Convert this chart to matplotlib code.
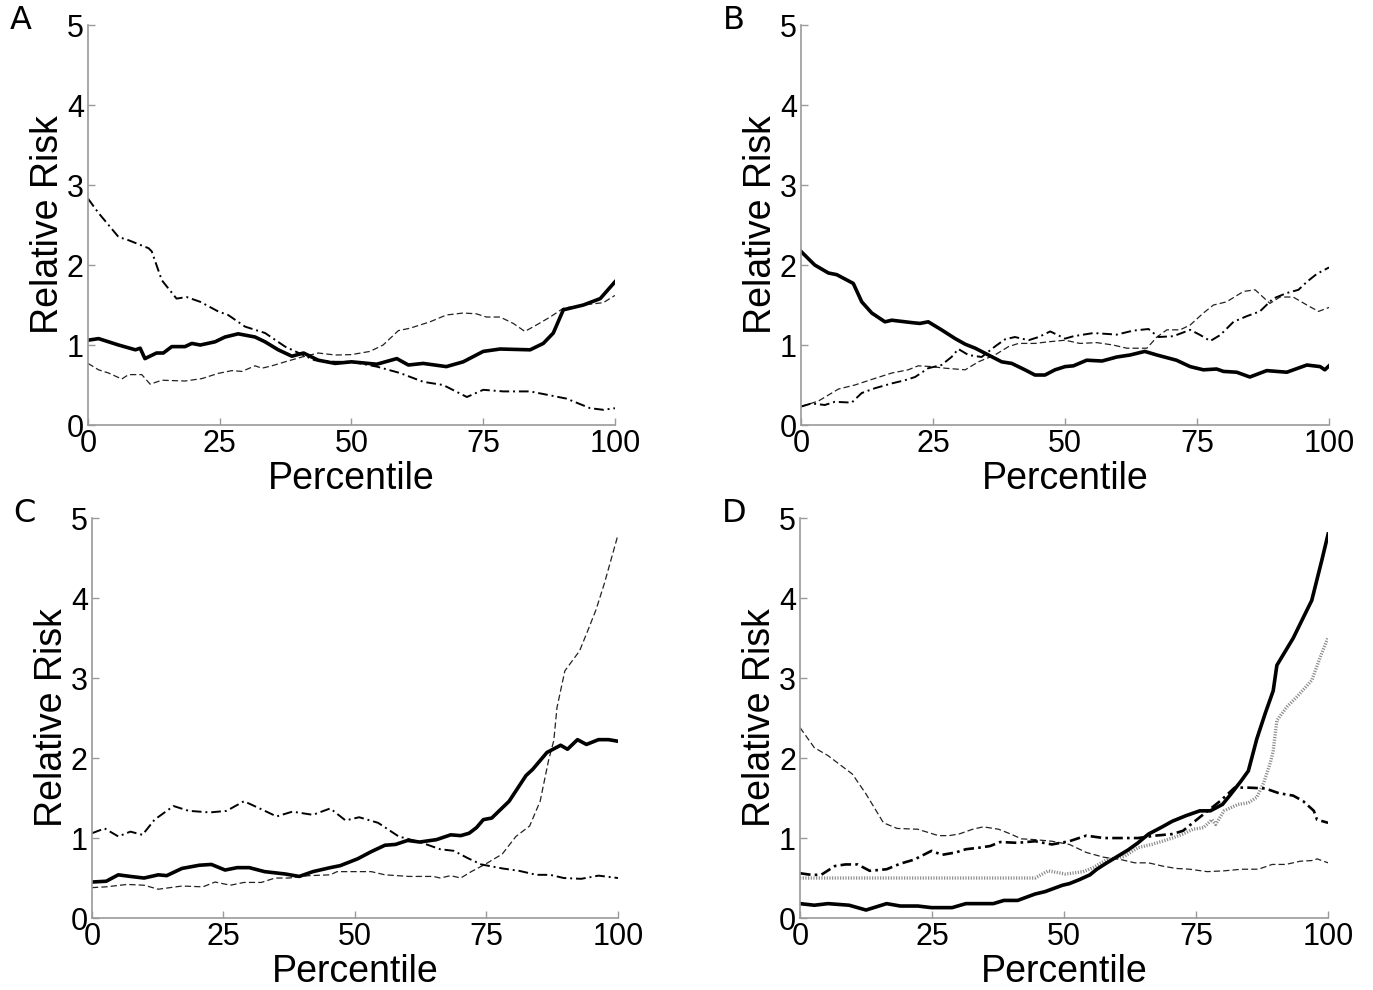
import matplotlib
matplotlib.use("Agg")
import matplotlib.pyplot as plt

plt.rcParams['font.family'] = ['Liberation Sans', 'DejaVu Sans']

# ---- panel A ----
A_solid_x = [0, 2, 5.8, 9, 9.9, 10.8, 13, 14.3, 15.9, 18.4, 19.7, 21.3, 24.1, 26, 28.5, 31.7, 33.6, 36.1, 38.7, 40.9,
             43.7, 46.9, 50, 54.8, 58.6, 60.8, 63.6, 68, 71.2, 75, 78.2, 83.9, 86.4, 88.3, 90.2, 94, 97.2, 100]
A_solid_y = [1.06, 1.08, 1.0, 0.94, 0.96, 0.83, 0.9, 0.9, 0.98, 0.98, 1.02, 1.0, 1.04, 1.1, 1.14, 1.1, 1.04, 0.94, 0.86, 0.9,
             0.81, 0.77, 0.79, 0.76, 0.83, 0.75, 0.77, 0.73, 0.79, 0.92, 0.95, 0.94, 1.02, 1.15, 1.44, 1.5, 1.58, 1.79]
A_dash_x = [0, 2, 3.9, 6.4, 7.7, 10.2, 11.8, 14, 18.4, 21.6, 24.7, 27.3, 29.2, 31.7, 33, 34.9, 37.4, 40.6, 43.7, 46.9, 50,
            53.5, 56, 58.9, 61.1, 64.9, 68, 71.2, 73.7, 75.6, 78.2, 80.7, 82.9, 85.1, 87.7, 90.2, 94, 97.8, 100]
A_dash_y = [0.77, 0.69, 0.65, 0.575, 0.63, 0.63, 0.51, 0.56, 0.55, 0.58, 0.645, 0.68, 0.67, 0.74, 0.71, 0.74, 0.79, 0.85, 0.9,
            0.875, 0.88, 0.92, 1.0, 1.18, 1.21, 1.29, 1.375, 1.4, 1.39, 1.35, 1.35, 1.27, 1.17, 1.25, 1.35, 1.46, 1.5, 1.53, 1.62]
A_dd_x = [0, 2, 5.8, 7.7, 11.5, 12.1, 14, 16.8, 18.7, 21.3, 24.7, 26.6, 29.8, 33.6, 37.4, 40, 43, 46.9, 50, 54.8, 59.2,
          63.6, 67.4, 71.9, 75, 78.8, 83.9, 90.8, 95.3, 97.8, 100]
A_dd_y = [2.83, 2.65, 2.35, 2.31, 2.21, 2.17, 1.81, 1.58, 1.6, 1.54, 1.42, 1.375, 1.23, 1.15, 0.98, 0.9, 0.81, 0.79, 0.79,
          0.73, 0.65, 0.54, 0.5, 0.35, 0.44, 0.42, 0.42, 0.33, 0.21, 0.19, 0.21]

# ---- panel B ----
B_solid_x = [0, 2.6, 5.2, 6.75, 9.9, 11.5, 13.4, 15.9, 17.2, 21, 22.5, 24.1, 26.6, 29.2, 31.1, 33, 35.5, 38, 39.9, 42.4,
             44.3, 46.2, 48.1, 50, 51.6, 54.1, 57, 59.8, 62.3, 65.1, 67.4, 71.1, 73.7, 76.2, 78.7, 80, 82.5, 85, 88.2,
             92, 95.8, 98.3, 99.2, 100]
B_solid_y = [2.17, 2.0, 1.9, 1.88, 1.77, 1.54, 1.4, 1.29, 1.31, 1.28, 1.27, 1.29, 1.19, 1.08, 1.01, 0.96, 0.875, 0.79, 0.77,
             0.69, 0.625, 0.625, 0.69, 0.73, 0.74, 0.81, 0.8, 0.85, 0.875, 0.92, 0.875, 0.81, 0.73, 0.69, 0.7, 0.67, 0.66,
             0.6, 0.68, 0.66, 0.75, 0.73, 0.69, 0.74]
B_dash_x = [0, 3.3, 7.1, 10.2, 13.4, 17.2, 20.3, 22.2, 24.7, 27.3, 31.1, 33.6, 36.7, 39.3, 41.2, 44.3, 46.8, 50, 52.8, 56,
            59.1, 61.7, 65.5, 67.4, 69.3, 71.8, 73.7, 76.2, 78.1, 80.6, 83.8, 86, 88.8, 90.7, 93.2, 95.8, 98, 100]
B_dash_y = [0.23, 0.3, 0.45, 0.5, 0.57, 0.65, 0.69, 0.74, 0.73, 0.71, 0.69, 0.79, 0.875, 0.98, 1.02, 1.02, 1.04, 1.06, 1.02,
            1.03, 1.0, 0.96, 0.96, 1.1, 1.19, 1.19, 1.25, 1.4, 1.5, 1.54, 1.67, 1.69, 1.52, 1.6, 1.6, 1.5, 1.42, 1.47]
B_dd_x = [0, 2, 4.5, 6.4, 9.6, 11.5, 14, 17.2, 19.7, 21.6, 24.1, 26.6, 28.5, 29.8, 31.7, 34.2, 36.7, 38.6, 40.5, 43.1, 45,
          47.2, 50, 51.6, 55.4, 59.8, 62.9, 65.8, 67.7, 70.5, 73.7, 75.6, 77.5, 79.4, 81.9, 84.4, 86.9, 89.4, 92, 94.2,
          95.8, 97.7, 100]
B_dd_y = [0.23, 0.27, 0.25, 0.29, 0.28, 0.4, 0.46, 0.52, 0.56, 0.6, 0.71, 0.75, 0.85, 0.95, 0.875, 0.85, 0.98, 1.07, 1.1,
          1.06, 1.1, 1.17, 1.08, 1.11, 1.15, 1.13, 1.18, 1.2, 1.1, 1.11, 1.19, 1.125, 1.05, 1.125, 1.29, 1.36, 1.42, 1.58,
          1.65, 1.69, 1.79, 1.89, 1.97]

# ---- panel C ----
C_solid_x = [0, 2.7, 5, 7.3, 9.9, 12.6, 14.2, 17.1, 20.4, 22.7, 25.3, 27.6, 29.9, 32.8, 36.8, 39.4, 42, 45.3, 47.2, 50.5,
             53.1, 55.7, 57.7, 60, 62.3, 65.5, 68.2, 70.1, 71.7, 73.1, 74.4, 76, 79.3, 82.5, 83.8, 86.5, 89.1, 90.4, 92.3,
             94, 96.3, 98.2, 100]
C_solid_y = [0.45, 0.46, 0.54, 0.52, 0.5, 0.54, 0.53, 0.62, 0.66, 0.67, 0.6, 0.63, 0.63, 0.58, 0.55, 0.52, 0.58, 0.63, 0.655,
             0.74, 0.83, 0.91, 0.92, 0.97, 0.95, 0.98, 1.04, 1.03, 1.06, 1.13, 1.23, 1.25, 1.46, 1.78, 1.86, 2.07, 2.16,
             2.11, 2.23, 2.17, 2.23, 2.23, 2.21]
C_dash_x = [0, 2.7, 6.7, 9.9, 12.6, 17.1, 21.1, 23.4, 26.3, 28.9, 32.2, 34.8, 37.4, 41.3, 45.3, 46.6, 50.5, 53.1, 55.7, 60.3,
            64.9, 66.2, 68.2, 70.1, 72.1, 74.7, 78, 80.6, 83.2, 85.2, 86.8, 87.8, 88.4, 89.9, 92.7, 94.3, 95.8, 97.4, 100]
C_dash_y = [0.38, 0.39, 0.42, 0.41, 0.36, 0.4, 0.39, 0.45, 0.41, 0.445, 0.445, 0.5, 0.5, 0.53, 0.54, 0.58, 0.58, 0.58, 0.54,
            0.52, 0.52, 0.5, 0.53, 0.5, 0.58, 0.67, 0.8, 1.02, 1.15, 1.46, 1.97, 2.22, 2.63, 3.09, 3.34, 3.6, 3.85, 4.18, 4.79]
C_dd_x = [0, 2.4, 5, 7.3, 9.6, 11.9, 15.5, 18.4, 22.4, 25.6, 28.9, 32.2, 35.1, 38.1, 42, 45.3, 48.2, 50.8, 54.4, 58.3, 62.3,
          66.2, 68.8, 71.4, 74, 78, 81.2, 84.5, 87.1, 89.7, 93, 96.3, 100]
C_dd_y = [1.06, 1.12, 1.02, 1.08, 1.04, 1.23, 1.4, 1.34, 1.32, 1.34, 1.46, 1.36, 1.27, 1.33, 1.29, 1.37, 1.22, 1.26, 1.19,
          1.02, 0.95, 0.86, 0.84, 0.75, 0.67, 0.62, 0.59, 0.54, 0.54, 0.5, 0.49, 0.53, 0.5]

# ---- panel D ----
D_solid_x = [0, 2.7, 5.3, 9.3, 12.5, 16.4, 19, 22.3, 24.9, 28.8, 31.4, 34, 36.6, 38.6, 41.2, 44.5, 46.4, 49.7, 51, 52.9,
             54.9, 56.2, 58.1, 60.1, 62.1, 64, 66, 68.6, 70.5, 73.1, 75.7, 77.7, 80, 81.6, 83.6, 84.9, 86.5, 88.1, 89.6,
             90.3, 93.4, 96, 96.9, 98.8, 100]
D_solid_y = [0.18, 0.16, 0.18, 0.16, 0.1, 0.18, 0.15, 0.15, 0.13, 0.13, 0.18, 0.18, 0.18, 0.22, 0.22, 0.3, 0.33, 0.41, 0.43,
             0.48, 0.54, 0.61, 0.69, 0.77, 0.85, 0.94, 1.05, 1.14, 1.21, 1.28, 1.34, 1.34, 1.42, 1.55, 1.72, 1.84, 2.24,
             2.56, 2.84, 3.16, 3.5, 3.85, 3.97, 4.47, 4.8]
D_dash_x = [0, 2.7, 5.3, 9.9, 12.5, 15.8, 18.4, 22.3, 26.2, 28.2, 30.1, 32.7, 34.7, 37.6, 39.9, 41.9, 44.5, 47.7, 51, 54.2,
            57.5, 60.8, 63.4, 66, 68.6, 71.2, 73.8, 77.1, 80.3, 83.6, 86.8, 89.4, 92, 94.7, 97.3, 97.9, 100]
D_dash_y = [2.38, 2.13, 2.03, 1.8, 1.55, 1.19, 1.12, 1.11, 1.03, 1.03, 1.05, 1.11, 1.14, 1.11, 1.05, 0.99, 0.98, 0.96, 0.92,
            0.82, 0.76, 0.73, 0.69, 0.69, 0.65, 0.62, 0.61, 0.58, 0.59, 0.61, 0.61, 0.67, 0.67, 0.71, 0.72, 0.74, 0.69]
D_dd_x = [0, 2.1, 4, 6.6, 8.6, 10.9, 13.2, 16.4, 19, 21.6, 24.9, 26.9, 29.5, 31.4, 34, 36, 37.9, 41.2, 44.5, 47.7, 51, 54.2,
          57.5, 60.8, 64, 67.3, 70.5, 72.5, 75.7, 79.7, 82.3, 84.9, 88.1, 90.7, 93.4, 95.3, 97.3, 97.9, 100]
D_dd_y = [0.56, 0.54, 0.54, 0.65, 0.67, 0.67, 0.59, 0.61, 0.68, 0.73, 0.84, 0.79, 0.82, 0.86, 0.88, 0.9, 0.95, 0.94, 0.96,
          0.92, 0.96, 1.03, 1.0, 1.0, 1.0, 1.03, 1.05, 1.09, 1.26, 1.47, 1.63, 1.63, 1.62, 1.56, 1.53, 1.46, 1.34, 1.23, 1.19]
D_dot_x = [0, 10, 20, 30, 40, 44.5, 47, 50.3, 53.6, 55.5, 58.1, 61.4, 64, 66.6, 68.6, 70.5, 72.5, 74.4, 76.4, 78, 78.7,
           80.3, 82.9, 84.9, 86.5, 87.8, 89.1, 89.6, 90.3, 92.2, 94, 96.9, 98.5, 100]
D_dot_y = [0.5, 0.5, 0.5, 0.5, 0.5, 0.5, 0.59, 0.55, 0.58, 0.63, 0.73, 0.77, 0.88, 0.92, 0.96, 1.0, 1.05, 1.11, 1.13, 1.23,
           1.17, 1.34, 1.42, 1.44, 1.51, 1.69, 1.95, 2.09, 2.47, 2.64, 2.76, 2.97, 3.26, 3.51]

xticks = [0, 25, 50, 75, 100]
yticks = [0, 1, 2, 3, 4, 5]
letters = ["A", "B", "C", "D"]

# styles
solid = dict(color="black", lw=2.6, ls="-")
dashed = dict(color="#222222", lw=0.9, ls=(0, (5, 2.5)))
dashdot = dict(color="black", lw=1.4, ls=(0, (5, 2, 1, 2)))
dashdot_thick = dict(color="black", lw=1.9, ls=(0, (4, 1.6, 1, 1.6)))
dotted = dict(color="#8a8a8a", lw=2.4, ls=(0, (0.35, 0.45)))

fig = plt.figure(figsize=(13.73, 9.9), dpi=100)

# axes boxes in figure fraction (left, bottom, width, height)
boxes = [(0.0641, 0.5707, 0.3838, 0.404),
         (0.5834, 0.5707, 0.3846, 0.404),
         (0.0670, 0.0727, 0.3831, 0.404),
         (0.5827, 0.0727, 0.3846, 0.404)]
axes = [fig.add_axes(b) for b in boxes]

axA, axB, axC, axD = axes
axA.plot(A_dash_x, A_dash_y, **dashed)
axA.plot(A_dd_x, A_dd_y, **dashdot)
axA.plot(A_solid_x, A_solid_y, **solid)

axB.plot(B_dash_x, B_dash_y, **dashed)
axB.plot(B_dd_x, B_dd_y, **dashdot)
axB.plot(B_solid_x, B_solid_y, **solid)

axC.plot(C_dash_x, C_dash_y, **dashed)
axC.plot(C_dd_x, C_dd_y, **dashdot)
axC.plot(C_solid_x, C_solid_y, **solid)

axD.plot(D_dash_x, D_dash_y, **dashed)
axD.plot(D_dot_x, D_dot_y, **dotted)
axD.plot(D_dd_x, D_dd_y, **dashdot_thick)
axD.plot(D_solid_x, D_solid_y, **solid)

for ax, letter in zip(axes, letters):
    ax.set_xlim(0, 100)
    ax.set_ylim(0, 5)
    ax.set_xticks(xticks)
    ax.set_yticks(yticks)
    for s in ["top", "right"]:
        ax.spines[s].set_visible(False)
    for s in ["left", "bottom"]:
        ax.spines[s].set_color("#9a9a9a")
        ax.spines[s].set_linewidth(1.2)
    ax.tick_params(direction="in", length=5, width=1, color="#9a9a9a", labelsize=22, pad=3)
    ax.set_xlabel("Percentile", fontsize=27)
    ax.set_ylabel("Relative Risk", fontsize=27)
    ax.xaxis.set_label_coords(0.5, -0.09)
    ax.yaxis.set_label_coords(-0.042, 0.5)
    pos = ax.get_position()
    fig.text(pos.x0 - 0.057, pos.y1 + 0.02, letter, fontsize=23, va="top", ha="left",
             family=["DejaVu Sans"])

fig.savefig("out.png", dpi=100)
